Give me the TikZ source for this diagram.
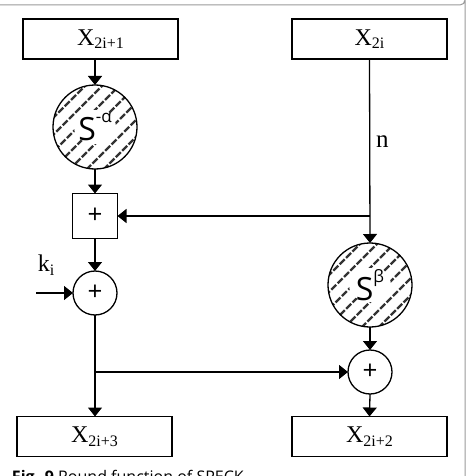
\documentclass[tikz,border=0pt]{standalone}
\usepackage{fontspec}
\setmainfont{Liberation Serif}
\newfontfamily\osans{Open Sans}
\usetikzlibrary{arrows.meta,calc}
\newcommand{\xsub}[1]{\raisebox{-0.32ex}{\fontsize{16}{16}\selectfont #1}}
\newcommand{\ssup}[1]{\raisebox{1.05ex}{\fontsize{17}{17}\selectfont #1}}

\begin{document}
\begin{tikzpicture}[
  x=1pt,y=-1pt,
  line width=1.3pt,
  every node/.style={inner sep=0pt,outer sep=0pt},
  reg/.style={draw,minimum width=155pt,minimum height=40pt,
    font=\fontsize{24}{26}\selectfont},
  addsq/.style={draw,minimum size=45pt,font=\osans\fontsize{26}{26}\selectfont},
  addc/.style={draw,circle,minimum size=44pt,font=\osans\fontsize{26}{26}\selectfont},
  rot/.style={draw,circle,minimum size=84pt,font=\osans\fontsize{32}{32}\selectfont,
    path picture={
      \foreach \d in {-85,-68,...,85}
        \draw[black!80,line width=2.4pt,dash pattern=on 7pt off 2pt]
          ([xshift=\d pt]path picture bounding box.center)
          ++(-62pt,-62pt) -- ++(124pt,124pt);
      \fill[white] (path picture bounding box.center) ellipse (21pt and 17pt);
    }},
  arr/.style={-{Triangle[length=9pt,width=14pt]}},
]
\useasboundingbox (0,0) rectangle (468,476);
\clip (0,0) rectangle (468,476);

% frame
\draw[gray!80,line width=1pt] (0,5) -- (460,5)
  arc[start angle=90,end angle=0,radius=5] -- (465,490);

\node[reg](X1) at (100.5,39){X\xsub{2i+1}};
\node[reg](X0) at (369.5,39){X\xsub{2i}};
\node[rot](SA) at (95,127){S\ssup{-α}};
\node[addsq](AQ) at (95,216){+};
\node[addc](AL) at (95,293){+};
\node[rot](SB) at (370,285){S\ssup{β}};
\node[addc](AR) at (370,372){+};
\node[reg](X3) at (94.5,436.5){X\xsub{2i+3}};
\node[reg](X2) at (369.5,436.5){X\xsub{2i+2}};

\node[anchor=west,font=\fontsize{25}{25}\selectfont](N) at (376,142){n};
\node[font=\fontsize{24}{24}\selectfont](K) at (46,265){k\xsub{i}};
\coordinate (kin) at (36,293);
\coordinate (jn) at (X0.south |- AQ.east);
\coordinate (jl) at (AL.south |- AR.west);

\draw[arr] (X1.south -| SA.north) -- (SA.north);
\draw[arr] (SA.south) -- (AQ.north);
\draw[arr] (AQ.south) -- (AL.north);
\draw[arr] (AL.south) -- (AL.south |- X3.north);
\draw[arr] (X0.south) -- (SB.north);
\draw[arr] (jn) -- (AQ.east);
\draw[arr] (kin) -- (AL.west);
\draw[arr] (jl) -- (AR.west);
\draw[arr] (SB.south) -- (AR.north);
\draw[arr] (AR.south) -- (X2.north);

\node[anchor=base west,font=\osans\fontsize{16}{16}\selectfont](CAP) at (12,482)
  {\textbf{Fig. 9} Round function of SPECK};
\end{tikzpicture}
\end{document}
